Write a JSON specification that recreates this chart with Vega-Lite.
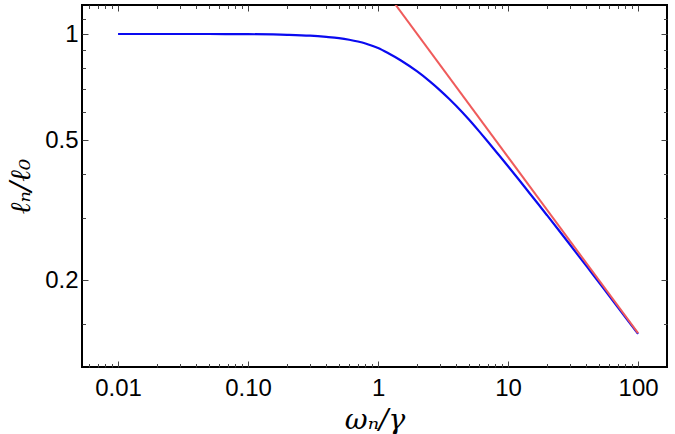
{
  "$schema": "https://vega.github.io/schema/vega-lite/v6.json",
  "width": 585,
  "height": 362,
  "autosize": "none",
  "padding": {"left": 82, "top": 5, "right": 8, "bottom": 67},
  "config": {
    "view": {"stroke": "black", "strokeWidth": 2},
    "axis": {"grid": false, "domain": false, "labelFont": "Liberation Sans", "labelFontSize": 24, "labelColor": "black", "tickColor": "#444", "tickWidth": 1}
  },
  "datasets": {
    "curve": [
      {"w": 0.01, "l": 1.0},
      {"w": 0.05, "l": 1.0},
      {"w": 0.1, "l": 0.999},
      {"w": 0.2, "l": 0.995},
      {"w": 0.3, "l": 0.989},
      {"w": 0.4, "l": 0.981},
      {"w": 0.5, "l": 0.973},
      {"w": 0.6, "l": 0.963},
      {"w": 0.7, "l": 0.952},
      {"w": 0.8, "l": 0.94},
      {"w": 0.9, "l": 0.926},
      {"w": 1.0, "l": 0.912},
      {"w": 1.2, "l": 0.8816},
      {"w": 1.5, "l": 0.841},
      {"w": 2.0, "l": 0.7827},
      {"w": 2.5, "l": 0.7337},
      {"w": 3.0, "l": 0.692},
      {"w": 3.5, "l": 0.656},
      {"w": 4.0, "l": 0.6244},
      {"w": 5.0, "l": 0.5717},
      {"w": 6.0, "l": 0.529},
      {"w": 7.0, "l": 0.4945},
      {"w": 8.5, "l": 0.4532},
      {"w": 10, "l": 0.421},
      {"w": 12, "l": 0.3873},
      {"w": 14, "l": 0.3606},
      {"w": 17, "l": 0.3295},
      {"w": 20, "l": 0.3053},
      {"w": 25, "l": 0.2748},
      {"w": 30, "l": 0.252},
      {"w": 38, "l": 0.225},
      {"w": 45, "l": 0.2075},
      {"w": 55, "l": 0.1883},
      {"w": 65, "l": 0.1736},
      {"w": 80, "l": 0.1569},
      {"w": 100, "l": 0.1407}
    ],
    "asym": [
      {"w": 1.25, "l": 1.265},
      {"w": 100, "l": 0.1414}
    ]
  },
  "resolve": {"axis": {"x": "independent", "y": "independent"}},
  "layer": [
    {
      "data": {"name": "curve"},
      "mark": {"type": "line", "color": "#0a0af0", "strokeWidth": 2.2, "clip": true, "interpolate": "monotone"},
      "encoding": {
        "x": {"field": "w", "type": "quantitative", "scale": {"type": "log", "domain": [0.00528, 167], "nice": false},
          "axis": {"orient": "bottom", "values": [0.01, 0.1, 1, 10, 100], "ticks": false, "labelPadding": 9,
            "labelExpr": "datum.value < 0.05 ? '0.01' : datum.value < 0.5 ? '0.10' : datum.value < 5 ? '1' : datum.value < 50 ? '10' : '100'",
            "title": "ωₙ/γ", "titleFont": "DejaVu Serif", "titleFontStyle": "italic", "titleFontWeight": "normal", "titleFontSize": 28, "titleColor": "black", "titlePadding": 6}},
        "y": {"field": "l", "type": "quantitative", "scale": {"type": "log", "domain": [0.1133, 1.209], "nice": false},
          "axis": {"orient": "left", "values": [0.2, 0.5, 1], "ticks": false, "labelPadding": 4,
            "labelExpr": "datum.value < 0.3 ? '0.2' : datum.value < 0.7 ? '0.5' : '1'",
            "title": "ℓₙ/ℓ₀", "titleFont": "DejaVu Serif", "titleFontStyle": "italic", "titleFontWeight": "normal", "titleFontSize": 28, "titleColor": "black", "titlePadding": 9}}
      }
    },
    {
      "data": {"name": "asym"},
      "mark": {"type": "line", "color": "#ef5b5b", "strokeWidth": 2, "clip": true},
      "encoding": {
        "x": {"field": "w", "type": "quantitative", "scale": {"type": "log", "domain": [0.00528, 167], "nice": false},
          "axis": {"orient": "bottom", "values": [0.01, 0.1, 1, 10, 100], "labels": false, "tickSize": -6, "title": null}},
        "y": {"field": "l", "type": "quantitative", "scale": {"type": "log", "domain": [0.1133, 1.209], "nice": false},
          "axis": {"orient": "left", "values": [0.2, 0.5, 1], "labels": false, "tickSize": -6, "title": null}}
      }
    },
    {
      "data": {"name": "asym"},
      "mark": {"type": "line", "opacity": 0, "clip": true},
      "encoding": {
        "x": {"field": "w", "type": "quantitative", "scale": {"type": "log", "domain": [0.00528, 167], "nice": false},
          "axis": {"orient": "bottom", "values": [0.006, 0.007, 0.008, 0.009, 0.02, 0.03, 0.04, 0.05, 0.06, 0.07, 0.08, 0.09, 0.2, 0.3, 0.4, 0.5, 0.6, 0.7, 0.8, 0.9, 2, 3, 4, 5, 6, 7, 8, 9, 20, 30, 40, 50, 60, 70, 80, 90], "labels": false, "tickSize": -3.5, "title": null}},
        "y": {"field": "l", "type": "quantitative", "scale": {"type": "log", "domain": [0.1133, 1.209], "nice": false},
          "axis": {"orient": "left", "values": [0.15, 0.3, 0.4, 0.6, 0.7, 0.8, 0.9, 1.1], "labels": false, "tickSize": -3.5, "title": null}}
      }
    },
    {
      "data": {"name": "asym"},
      "mark": {"type": "line", "opacity": 0, "clip": true},
      "encoding": {
        "x": {"field": "w", "type": "quantitative", "scale": {"type": "log", "domain": [0.00528, 167], "nice": false},
          "axis": {"orient": "top", "values": [0.01, 0.1, 1, 10, 100], "labels": false, "tickSize": -6, "title": null}},
        "y": {"field": "l", "type": "quantitative", "scale": {"type": "log", "domain": [0.1133, 1.209], "nice": false},
          "axis": {"orient": "right", "values": [0.2, 0.5, 1], "labels": false, "tickSize": -6, "title": null}}
      }
    },
    {
      "data": {"name": "asym"},
      "mark": {"type": "line", "opacity": 0, "clip": true},
      "encoding": {
        "x": {"field": "w", "type": "quantitative", "scale": {"type": "log", "domain": [0.00528, 167], "nice": false},
          "axis": {"orient": "top", "values": [0.006, 0.007, 0.008, 0.009, 0.02, 0.03, 0.04, 0.05, 0.06, 0.07, 0.08, 0.09, 0.2, 0.3, 0.4, 0.5, 0.6, 0.7, 0.8, 0.9, 2, 3, 4, 5, 6, 7, 8, 9, 20, 30, 40, 50, 60, 70, 80, 90], "labels": false, "tickSize": -3.5, "title": null}},
        "y": {"field": "l", "type": "quantitative", "scale": {"type": "log", "domain": [0.1133, 1.209], "nice": false},
          "axis": {"orient": "right", "values": [0.15, 0.3, 0.4, 0.6, 0.7, 0.8, 0.9, 1.1], "labels": false, "tickSize": -3.5, "title": null}}
      }
    }
  ]
}
